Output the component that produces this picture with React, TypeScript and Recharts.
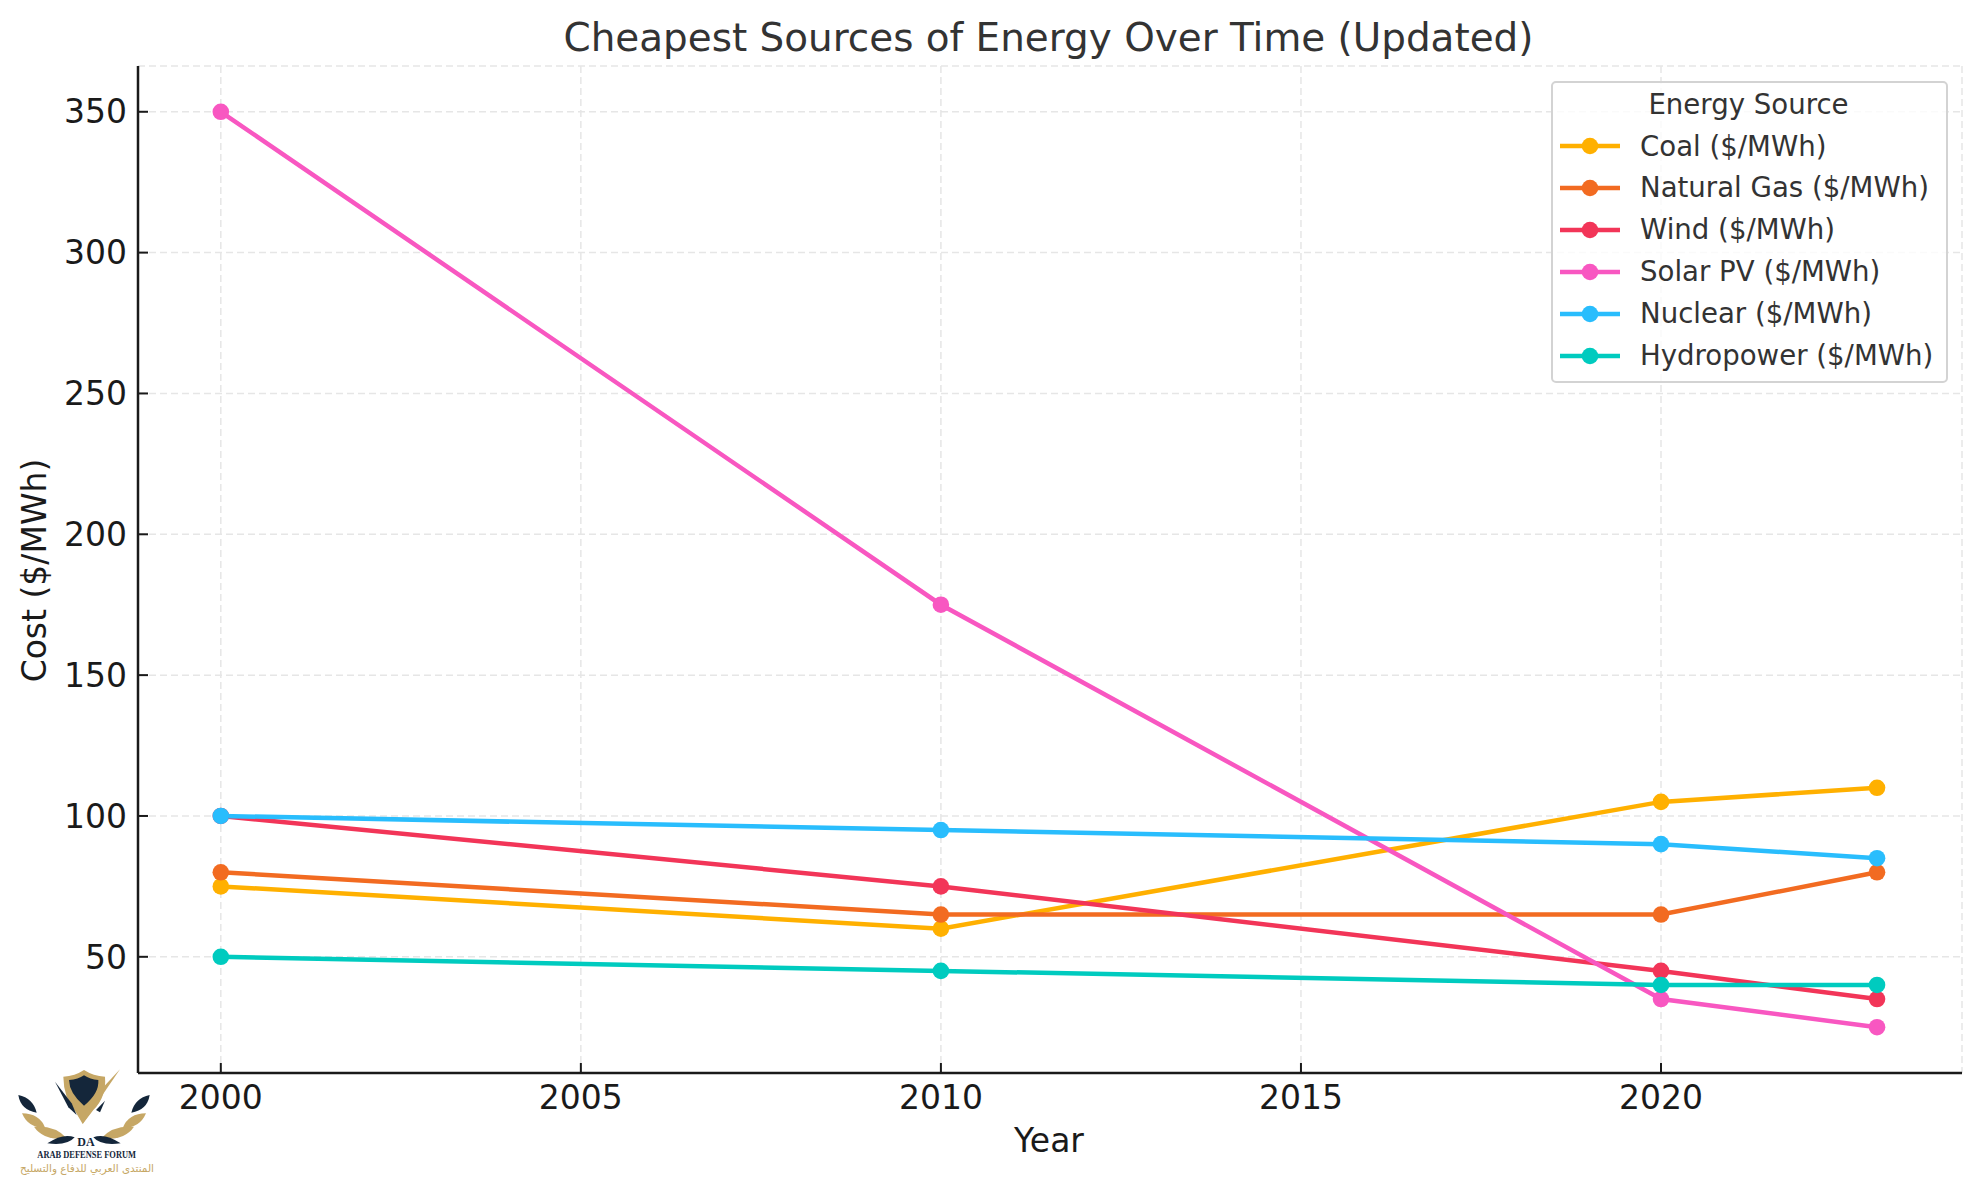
import { LineChart, Line, XAxis, YAxis, CartesianGrid, Legend } from "recharts";

const years = [2000, 2010, 2020, 2023];
const coal = [75, 60, 105, 110];
const naturalGas = [80, 65, 65, 80];
const wind = [100, 75, 45, 35];
const solar = [350, 175, 35, 25];
const nuclear = [100, 95, 90, 85];
const hydro = [50, 45, 40, 40];

const xTicks = [2000, 2005, 2010, 2015, 2020];
const yTicks = [50, 100, 150, 200, 250, 300, 350];

const seriesList = [
  { name: "Coal ($/MWh)", values: coal, color: "#FFB000" },
  { name: "Natural Gas ($/MWh)", values: naturalGas, color: "#F26B21" },
  { name: "Wind ($/MWh)", values: wind, color: "#F23558" },
  { name: "Solar PV ($/MWh)", values: solar, color: "#F857C1" },
  { name: "Nuclear ($/MWh)", values: nuclear, color: "#29BDFD" },
  { name: "Hydropower ($/MWh)", values: hydro, color: "#00CBBF" },
];

const chartData = years.map((year, i) => {
  const row: Record<string, number> = { year };
  seriesList.forEach((s) => {
    row[s.name] = s.values[i];
  });
  return row;
});

const FONT = "'DejaVu Sans', sans-serif";

const renderLegend = (props: any) => (
  <div
    style={{
      boxSizing: "border-box",
      width: 397,
      height: 302,
      background: "rgba(255,255,255,0.8)",
      border: "2.5px solid #d3d3d3",
      borderRadius: 5,
      fontFamily: FONT,
      fontSize: 27.6,
      color: "#333",
      position: "relative",
    }}
  >
    <div style={{ position: "absolute", top: 4, left: -1, width: "100%", textAlign: "center", lineHeight: "36px" }}>
      Energy Source
    </div>
    {props.payload.map((item: any, i: number) => (
      <div key={item.value} style={{ position: "absolute", left: 7, top: 45 + i * 41.9, height: 36, display: "flex", alignItems: "center" }}>
        <svg width={60} height={36} style={{ display: "block" }}>
          <line x1={0} x2={60} y1={18} y2={18} stroke={item.color} strokeWidth={4.5} />
          <circle cx={30} cy={18} r={8.3} fill={item.color} />
        </svg>
        <span style={{ marginLeft: 20, whiteSpace: "nowrap" }}>{item.value}</span>
      </div>
    ))}
  </div>
);

const GOLD = "#c6a765";
const NAVY = "#14263a";

const LogoWing = () => (
  <>
    <path d="M25 105 Q70 115 80 158 Q32 150 25 105 Z" fill={NAVY} />
    <path d="M36 160 Q88 160 106 204 Q55 205 36 160 Z" fill={GOLD} />
    <path d="M72 200 Q135 195 172 236 Q100 242 72 200 Z" fill={GOLD} />
    <path d="M112 250 Q160 218 194 232 Q172 258 112 250 Z" fill={NAVY} />
  </>
);

const Logo = () => (
  <svg width={150} height={120} viewBox="0 0 450 360" style={{ position: "absolute", left: 10, top: 1060 }}>
    <path d="M160 50 Q195 48 222 30 Q250 48 285 50 Q290 110 250 150 L218 192 L170 110 Q160 80 160 50 Z" fill={GOLD} />
    <path d="M330 28 L218 192 L235 130 Z" fill={GOLD} />
    <path d="M177 60 Q205 58 222 46 Q240 58 265 60 Q268 100 222 137 Q178 100 177 60 Z" fill={NAVY} />
    <path d="M135 65 L185 130 L200 165 L175 142 Z" fill={NAVY} />
    <path d="M285 122 L258 150 L270 157 Z" fill={NAVY} />
    <LogoWing />
    <g transform="translate(444,0) scale(-1,1)">
      <LogoWing />
    </g>
    <text x={228} y={257} textAnchor="middle" fontFamily="'Liberation Serif', serif" fontWeight={700} fontSize={36} fill={NAVY}>DA</text>
    <text x={230} y={293} textAnchor="middle" fontFamily="'Liberation Serif', serif" fontWeight={700} fontSize={30} fill={NAVY} textLength={296} lengthAdjust="spacingAndGlyphs">ARAB DEFENSE FORUM</text>
    <text x={231} y={335} textAnchor="middle" direction="rtl" fontFamily="'DejaVu Sans', sans-serif" fontSize={32} fill={GOLD} textLength={402} lengthAdjust="spacingAndGlyphs">المنتدى العربي للدفاع والتسليح</text>
  </svg>
);

export default function App() {
  return (
    <div style={{ position: "absolute", left: 0, top: 0, width: 1980, height: 1180, background: "#fff" }}>
      <div
        style={{
          position: "absolute",
          top: 15,
          left: 0,
          width: 2097,
          textAlign: "center",
          fontFamily: FONT,
          fontSize: 38.9,
          color: "#333",
          zIndex: 2,
          pointerEvents: "none",
        }}
      >
        Cheapest Sources of Energy Over Time (Updated)
      </div>
      <LineChart width={1980} height={1180} data={chartData} margin={{ top: 66, right: 18, bottom: 0, left: 0 }}>
        <CartesianGrid stroke="#e6e6e6" strokeWidth={1.5} strokeDasharray="7 4" />
        <XAxis
          dataKey="year"
          type="number"
          domain={[1998.85, 2024.18]}
          ticks={xTicks}
          height={107}
          allowDataOverflow
          tickSize={-10}
          tickMargin={23}
          tickFormatter={(v: number) => String(v)}
          tick={{ fontSize: 33, fontFamily: FONT, fill: "#1a1a1a" }}
          axisLine={{ stroke: "#1a1a1a", strokeWidth: 2.5 }}
          tickLine={{ stroke: "#1a1a1a", strokeWidth: 2 }}
          label={{ value: "Year", position: "bottom", offset: -51, dx: -1, fontSize: 33, fontFamily: FONT, fill: "#1a1a1a" }}
        />
        <YAxis
          type="number"
          domain={[8.75, 366.25]}
          ticks={yTicks}
          width={138}
          allowDataOverflow
          tickSize={-10}
          tickMargin={21}
          tick={{ fontSize: 33, fontFamily: FONT, fill: "#1a1a1a" }}
          axisLine={{ stroke: "#1a1a1a", strokeWidth: 2.5 }}
          tickLine={{ stroke: "#1a1a1a", strokeWidth: 2 }}
          label={{ value: "Cost ($/MWh)", angle: -90, position: "insideLeft", offset: 34, dy: 1, fontSize: 33, fontFamily: FONT, fill: "#1a1a1a", style: { textAnchor: "middle" } }}
        />
        {seriesList.map((s) => (
          <Line
            key={s.name}
            dataKey={s.name}
            name={s.name}
            stroke={s.color}
            strokeWidth={4.5}
            dot={{ r: 8.3, fill: s.color, stroke: s.color, strokeWidth: 0 }}
            isAnimationActive={false}
          />
        ))}
        <Legend
          content={renderLegend}
          itemSorter={null}
          layout="horizontal"
          align="center"
          verticalAlign="middle"
          wrapperStyle={{ left: 1551, top: 81, width: 397, height: 302 }}
        />
      </LineChart>
      <Logo />
    </div>
  );
}
